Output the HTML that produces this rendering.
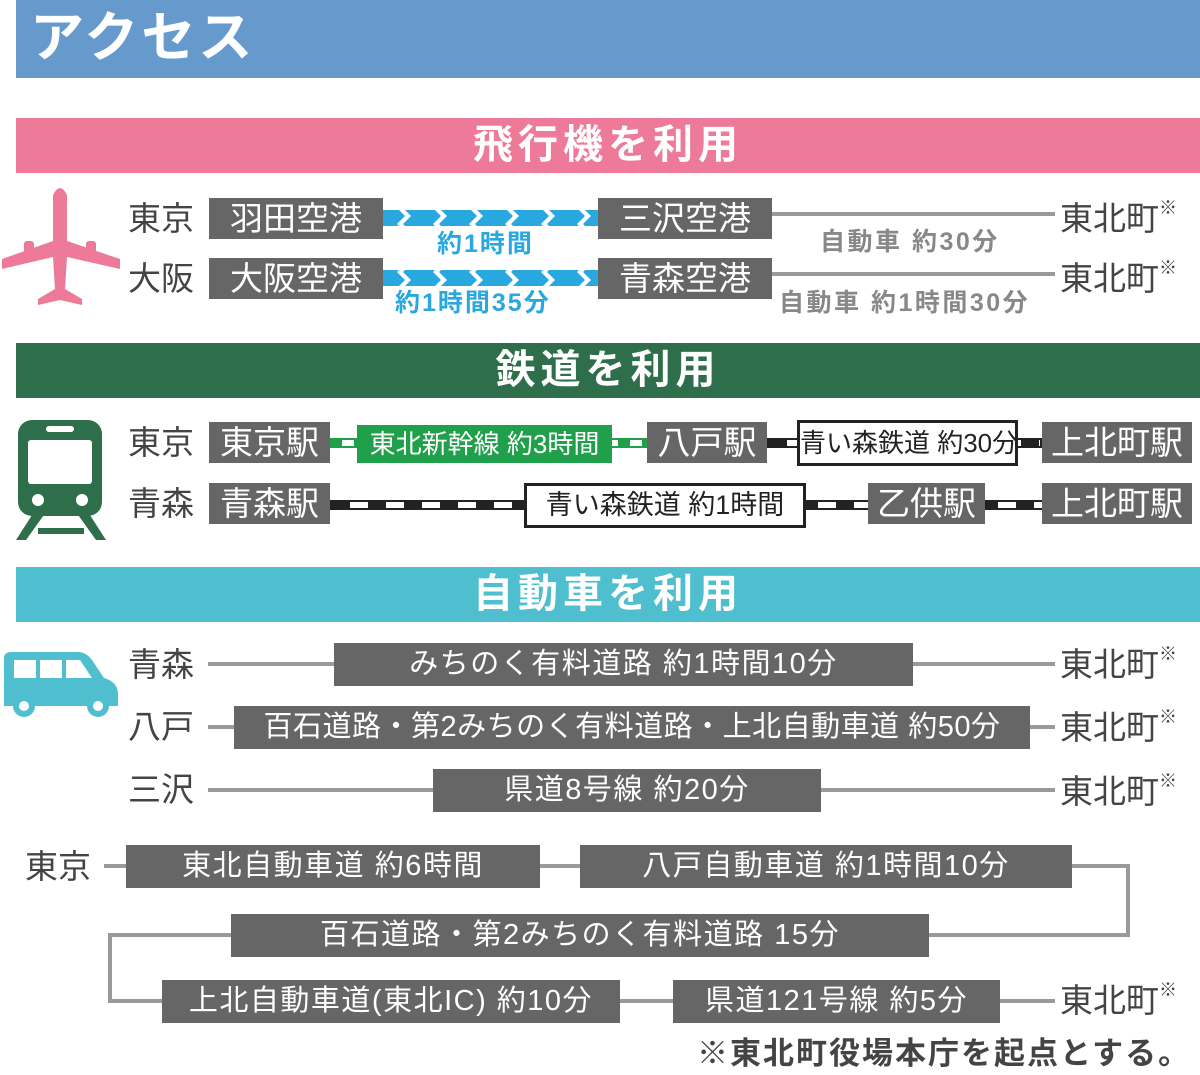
<!DOCTYPE html>
<html><head><meta charset="utf-8"><style>
body{margin:0;width:1200px;height:1075px;position:relative;background:#fff;overflow:hidden;font-family:"Liberation Sans","Noto Sans CJK JP",sans-serif}
.a{position:absolute;white-space:nowrap}
.bar{position:absolute;left:16px;width:1184px;height:55px;color:#fff;font-weight:bold;font-size:40px;text-align:center;line-height:55px;letter-spacing:5px}
.bx{position:absolute;background:#666;color:#fff;font-size:33px;text-align:center;line-height:41px;height:41px;white-space:nowrap}
.lb{position:absolute;color:#444;font-size:33px;line-height:41px}
.gl{position:absolute;background:#9a9a9a;height:4px}
.cb{position:absolute;background:#666;color:#fff;font-size:29px;text-align:center;height:43px;line-height:43px;white-space:nowrap;letter-spacing:1.5px}
.to{position:absolute;color:#444;font-size:33px;line-height:41px;left:1060px}
.to sup{font-size:18px;vertical-align:top;line-height:20px}
.rw{position:absolute;height:6px;border:2px solid #222;background:repeating-linear-gradient(90deg,#222 0 18px,#fff 18px 36px)}
.wb{position:absolute;background:#fff;border:3px solid #222;color:#222;font-size:27px;text-align:center;box-sizing:border-box;white-space:nowrap}
.bl{position:absolute;color:#29a8e0;font-size:25px;font-weight:bold;letter-spacing:2px;white-space:nowrap}
.gy{position:absolute;color:#888;font-size:25px;font-weight:bold;letter-spacing:2.5px;white-space:nowrap}
</style></head><body>
<div class="a" style="left:16px;top:0;width:1184px;height:78px;background:#6699cc"></div>
<div class="a" style="left:30px;top:3px;color:#fff;font-size:54px;font-weight:bold;line-height:70px;letter-spacing:3px">アクセス</div>

<div class="bar" style="top:118px;background:#ee7a9a">飛行機を利用</div>
<svg class="a" style="left:0;top:183px" width="122" height="124" viewBox="0 0 122 124"><g fill="#ee7a9a"><path d="M53 12 Q60 -2 67 12 L67 58 L120 76 L120 86 L67 74 L65 106 L82 116 L82 122 L60 117 L38 122 L38 116 L55 106 L53 74 L2 86 L2 76 L53 58Z"/><rect x="24" y="58" width="10" height="16" rx="3"/><rect x="86" y="58" width="10" height="16" rx="3"/></g></svg>
<div class="lb" style="left:128px;top:198px">東京</div>
<div class="bx" style="left:209px;top:198px;width:174px">羽田空港</div>
<div class="bx" style="left:598px;top:198px;width:174px">三沢空港</div>
<div class="lb" style="left:128px;top:258px">大阪</div>
<div class="bx" style="left:209px;top:258px;width:174px">大阪空港</div>
<div class="bx" style="left:598px;top:258px;width:174px">青森空港</div>
<svg class="a" style="left:383px;top:208px" width="215" height="80"><defs><pattern id="ch" width="36" height="16" patternUnits="userSpaceOnUse"><rect width="36" height="16" fill="#29a8e0"/><polygon points="14,0 20,0 28,8 20,16 14,16 22,8" fill="#fff"/></pattern></defs><rect y="2" width="215" height="16" fill="url(#ch)"/><rect y="62" width="215" height="16" fill="url(#ch)"/></svg>
<div class="bl" style="left:437px;top:224px">約1時間</div>
<div class="bl" style="left:395px;top:283px">約1時間35分</div>
<div class="gl" style="left:772px;top:212px;width:283px"></div>
<div class="gl" style="left:772px;top:272px;width:283px"></div>
<div class="gy" style="left:820px;top:222px">自動車 約30分</div>
<div class="gy" style="left:779px;top:283px">自動車 約1時間30分</div>
<div class="to" style="top:198px">東北町<sup>※</sup></div>
<div class="to" style="top:258px">東北町<sup>※</sup></div>

<div class="bar" style="top:343px;background:#2e6e4a">鉄道を利用</div>
<svg class="a" style="left:16px;top:418px" width="90" height="124"><g fill="#2e6e4a"><rect x="2" y="2" width="84" height="96" rx="14"/><polygon points="18,94 30,94 10,122 0,122"/><polygon points="60,94 72,94 90,122 80,122"/><rect x="22" y="110" width="46" height="6"/></g><rect x="12" y="22" width="64" height="44" rx="3" fill="#fff"/><rect x="30" y="8" width="28" height="6" rx="3" fill="#fff"/><circle cx="22" cy="82" r="6" fill="#fff"/><circle cx="66" cy="82" r="6" fill="#fff"/></svg>
<div class="lb" style="left:128px;top:422px">東京</div>
<div class="bx" style="left:209px;top:422px;width:121px">東京駅</div>
<div class="a" style="left:330px;top:438px;width:317px;background:repeating-linear-gradient(90deg,#21a04b 0 12px,#fff 12px 24px);border-top:2px solid #21a04b;border-bottom:2px solid #21a04b;box-sizing:border-box;height:10px"></div>
<div class="a" style="left:357px;top:425px;width:255px;height:38px;background:#21a04b;color:#fff;font-size:26px;text-align:center;line-height:38px">東北新幹線 約3時間</div>
<div class="bx" style="left:647px;top:422px;width:120px">八戸駅</div>
<div class="rw" style="left:767px;top:438px;width:271px"></div>
<div class="wb" style="left:797px;top:420px;width:221px;height:46px;line-height:40px;font-size:26px">青い森鉄道 約30分</div>
<div class="bx" style="left:1042px;top:422px;width:150px">上北町駅</div>
<div class="lb" style="left:128px;top:483px">青森</div>
<div class="bx" style="left:209px;top:483px;width:121px">青森駅</div>
<div class="rw" style="left:330px;top:500px;width:712px"></div>
<div class="wb" style="left:524px;top:483px;width:282px;height:45px;line-height:39px">青い森鉄道 約1時間</div>
<div class="bx" style="left:868px;top:483px;width:117px">乙供駅</div>
<div class="bx" style="left:1042px;top:483px;width:150px">上北町駅</div>

<div class="bar" style="top:567px;background:#4fbfcf">自動車を利用</div>
<svg class="a" style="left:0;top:650px" width="122" height="68"><g fill="#4fbfcf"><path d="M4 8 Q4 2 12 2 L78 2 Q86 2 92 10 L104 28 Q118 32 118 44 L118 56 L4 56Z"/><circle cx="24" cy="56" r="11"/><circle cx="98" cy="56" r="11"/></g><rect x="14" y="10" width="22" height="18" fill="#fff"/><rect x="40" y="10" width="22" height="18" fill="#fff"/><path d="M66 10 L80 10 L92 28 L66 28Z" fill="#fff"/><circle cx="24" cy="56" r="5" fill="#fff"/><circle cx="98" cy="56" r="5" fill="#fff"/></svg>
<div class="lb" style="left:128px;top:644px">青森</div>
<div class="gl" style="left:208px;top:662px;width:847px"></div>
<div class="cb" style="left:334px;top:643px;width:579px">みちのく有料道路 約1時間10分</div>
<div class="to" style="top:644px">東北町<sup>※</sup></div>
<div class="lb" style="left:128px;top:706px">八戸</div>
<div class="gl" style="left:208px;top:725px;width:847px"></div>
<div class="cb" style="left:234px;top:706px;width:796px;letter-spacing:0.5px">百石道路・第2みちのく有料道路・上北自動車道 約50分</div>
<div class="to" style="top:707px">東北町<sup>※</sup></div>
<div class="lb" style="left:128px;top:769px">三沢</div>
<div class="gl" style="left:208px;top:788px;width:847px"></div>
<div class="cb" style="left:433px;top:769px;width:388px">県道8号線 約20分</div>
<div class="to" style="top:771px">東北町<sup>※</sup></div>

<div class="lb" style="left:25px;top:846px">東京</div>
<div class="gl" style="left:104px;top:864px;width:1024px"></div>
<div class="gl" style="left:1126px;top:864px;width:4px;height:73px"></div>
<div class="gl" style="left:108px;top:933px;width:1022px"></div>
<div class="gl" style="left:108px;top:933px;width:4px;height:70px"></div>
<div class="gl" style="left:108px;top:999px;width:947px"></div>
<div class="cb" style="left:126px;top:845px;width:414px">東北自動車道 約6時間</div>
<div class="cb" style="left:580px;top:845px;width:492px">八戸自動車道 約1時間10分</div>
<div class="cb" style="left:231px;top:914px;width:698px">百石道路・第2みちのく有料道路 15分</div>
<div class="cb" style="left:162px;top:980px;width:458px">上北自動車道(東北IC) 約10分</div>
<div class="cb" style="left:673px;top:980px;width:327px">県道121号線 約5分</div>
<div class="to" style="top:980px">東北町<sup>※</sup></div>
<div class="a" style="left:697px;top:1034px;color:#444;font-size:31px;font-weight:bold;line-height:40px;letter-spacing:2px">※東北町役場本庁を起点とする。</div>
</body></html>
